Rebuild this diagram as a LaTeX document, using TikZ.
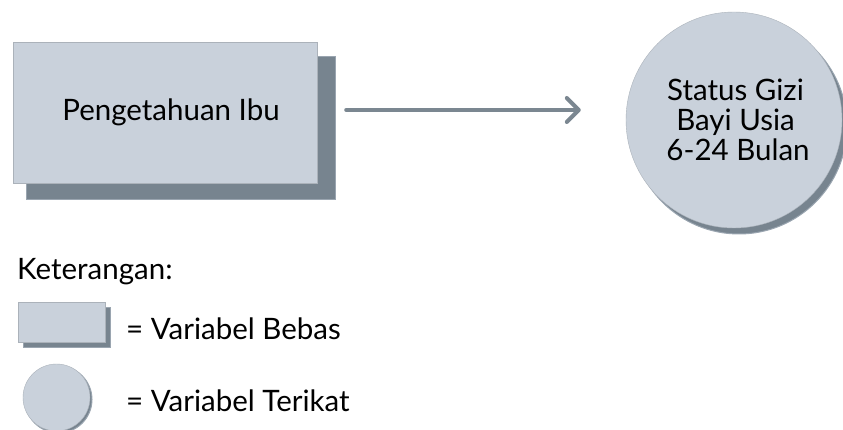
\documentclass[tikz,border=0pt]{standalone}
\usepackage{fontspec}
\setmainfont{Lato}
\usepackage{xcolor}
\usetikzlibrary{arrows.meta, shadows}

\definecolor{boxfill}{HTML}{C9D1DB}
\definecolor{boxshade}{HTML}{77848F}
\definecolor{shadeline}{HTML}{9AA5B0}
\definecolor{arrowgray}{HTML}{7B8791}

\begin{document}
\begin{tikzpicture}[x=1pt, y=-1pt,
    var/.style={fill=boxfill, draw=boxfill!85!black, line width=0.4pt, inner sep=0pt},
    shade/.style={general shadow={fill=boxshade, draw=shadeline, line width=1pt, #1}},
    lbl/.style={anchor=west, inner sep=0pt, font=\fontsize{29.5}{30}\selectfont}]
  \useasboundingbox (0,0) rectangle (843,430);
  % Independent variable (box with drop shadow)
  \node[var, rectangle, minimum width=304pt, minimum height=141pt,
        shade={shadow xshift=15.5pt, shadow yshift=-15.5pt, shadow scale=1.015},
        font=\fontsize{29.5}{30}\selectfont] (ibu) at (165,112.5) {\hspace*{12pt}Pengetahuan Ibu};
  % Dependent variable (circle)
  \node[var, circle, minimum size=216pt,
        shade={shadow xshift=5pt, shadow yshift=-6pt},
        align=center, font=\fontsize{29.5}{30}\selectfont] (gizi) at (734,120)
        {\hspace*{3pt}Status Gizi\\\hspace*{3pt}Bayi Usia\\\hspace*{8pt}6-24 Bulan};
  % Arrow
  \draw[arrowgray, line width=4pt, line cap=round,
        -{Straight Barb[length=12pt, width=24pt, line cap=round, line join=round]},
        shorten <=29pt, shorten >=45pt]
    ([yshift=2.5pt]ibu.east) -- ([yshift=2.5pt]ibu.east -| gizi.west);
  % Legend
  \node[lbl] (ket) at (17,272) {Keterangan:};
  \node[var, rectangle, minimum width=87pt, minimum height=40pt,
        shade={shadow xshift=5pt, shadow yshift=-5pt}] (lgbox) at (61.5,322) {};
  \node[var, circle, minimum size=67pt,
        shade={shadow xshift=2pt, shadow yshift=-2pt}] (lgcirc) at (56.5,397.5) {};
  \node[lbl] (bebas) at (126,329) {= Variabel Bebas};
  \node[lbl] (terikat) at (126,401) {= Variabel Terikat};
\end{tikzpicture}
\end{document}
